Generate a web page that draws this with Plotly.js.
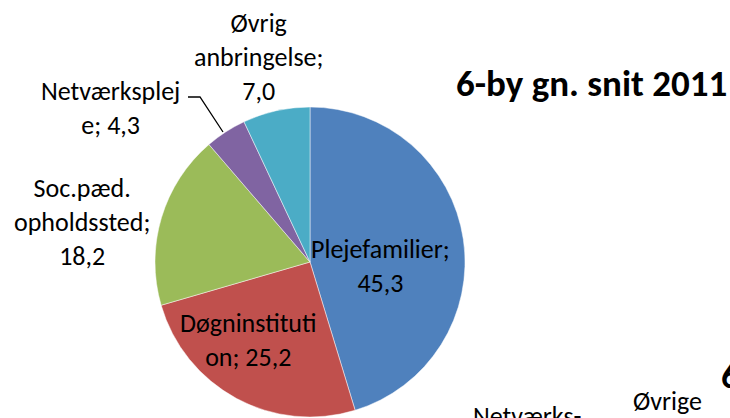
<!DOCTYPE html>
<html>
<head>
<meta charset="utf-8">
<script src="https://cdn.plot.ly/plotly-3.0.1.min.js"></script>
<style>html,body{margin:0;padding:0;background:#fff;}#chart{width:730px;height:418px;}</style>
</head>
<body>
<div id="chart"></div>
<script>
// Data (6-by gn. snit 2011, anbringelsesform, pct.)
const categories = ["Plejefamilier", "Døgninstitution", "Soc.pæd. opholdssted", "Netværkspleje", "Øvrig anbringelse"];
const wrappedLabels = ["Plejefamilier;", "Døgninstituti<br>on;", "Soc.pæd.<br>opholdssted;", "Netværksplej<br>e;", "Øvrig<br>anbringelse;"];
const values = [45.3, 25.2, 18.2, 4.3, 7.0];
const colors = ["#4F81BD", "#C0504D", "#9BBB59", "#8064A2", "#4BACC6"];
const chartTitle = "6-by gn. snit 2011";
const nextChartTexts = ["Netværks-", "Øvrige", "6"];

const W = 730, H = 418;
const FONT = "Carlito, Calibri, Lato, 'Open Sans', sans-serif";
const LBL = 26, TTL = 37;
const px = x => x / W;
const py = y => 1 - y / H;

// pie geometry (pixels)
const cx = 310, cy = 262, r = 155;

const fmt = v => v.toFixed(1).replace('.', ',');

// label positions (pixels) for each slice label
const labelPos = [[380, 266], [248, 340], [82, 222], [110, 108], [258, 57]];
const labelBreakVal = [true, false, true, false, true];

const annotations = categories.map((c, i) => ({
  xref: 'paper', yref: 'paper',
  x: px(labelPos[i][0]), y: py(labelPos[i][1]),
  xanchor: 'center', yanchor: 'middle',
  text: wrappedLabels[i] + (labelBreakVal[i] ? '<br>' : ' ') + fmt(values[i]),
  showarrow: false,
  font: {family: FONT, size: LBL, color: '#000'},
  align: 'center'
}));

annotations.push({
  xref: 'paper', yref: 'paper', x: px(591), y: py(84),
  xanchor: 'center', yanchor: 'middle',
  text: '<b>' + chartTitle + '</b>', showarrow: false,
  font: {family: FONT, size: TTL, color: '#000'}
});
// partially visible texts from the chart below
annotations.push({xref:'paper', yref:'paper', x: px(527), y: py(416), xanchor:'center', yanchor:'middle',
  text: nextChartTexts[0], showarrow:false, font:{family:FONT, size:LBL, color:'#000'}});
annotations.push({xref:'paper', yref:'paper', x: px(667), y: py(401), xanchor:'center', yanchor:'middle',
  text: nextChartTexts[1], showarrow:false, font:{family:FONT, size:LBL, color:'#000'}});
annotations.push({xref:'paper', yref:'paper', x: px(719), y: py(375), xanchor:'left', yanchor:'middle',
  text: '<b>' + nextChartTexts[2] + '</b>', showarrow:false, font:{family:FONT, size:TTL, color:'#000'}});

const trace = {
  type: 'pie',
  labels: categories,
  values: values,
  sort: false,
  direction: 'clockwise',
  rotation: 0,
  textinfo: 'none',
  hoverinfo: 'label+value',
  marker: {colors: colors, line: {color: 'rgba(255,255,255,0.6)', width: 0.8}},
  domain: {x: [px(cx - r), px(cx + r)], y: [1 - (cy + r) / H, 1 - (cy - r) / H]},
  showlegend: false
};

const layout = {
  width: W, height: H,
  margin: {l: 0, r: 0, t: 0, b: 0},
  paper_bgcolor: '#fff',
  showlegend: false,
  annotations: annotations,
  shapes: [{
    type: 'path', xref: 'paper', yref: 'paper',
    path: `M ${px(188)} ${py(97)} L ${px(200)} ${py(97)} L ${px(223)} ${py(132)}`,
    line: {color: '#000', width: 1.3}
  }]
};

Plotly.newPlot('chart', [trace], layout, {displayModeBar: false, staticPlot: true});
</script>
</body>
</html>
